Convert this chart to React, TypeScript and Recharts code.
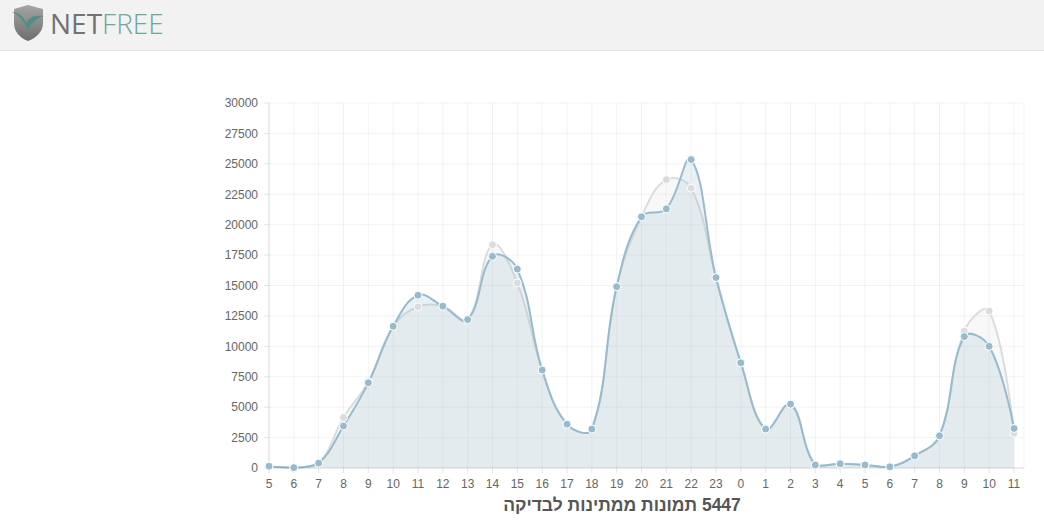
import React from "react";
import {
  Area,
  CartesianGrid,
  ComposedChart,
  XAxis,
  YAxis,
} from "recharts";

// שעות (ציר X) - מתחיל ב-5 בבוקר ומסתובב ליום הבא
const hours = [
  "5", "6", "7", "8", "9", "10", "11", "12", "13", "14", "15", "16", "17", "18",
  "19", "20", "21", "22", "23", "0", "1", "2", "3", "4", "5", "6", "7", "8",
  "9", "10", "11",
];

// סדרה נוכחית (כחול)
const currentValues = [
  150, 30, 400, 3450, 7000, 11650, 14200, 13300, 12200, 17400, 16350, 8050,
  3600, 3200, 14900, 20650, 21300, 25350, 15650, 8650, 3200, 5250, 250, 350,
  250, 100, 1000, 2650, 10800, 10000, 3250,
];

// סדרת השוואה (אפור)
const previousValues = [
  150, 30, 400, 4150, 7100, 11650, 13250, 13300, 12200, 18350, 15200, 8050,
  3600, 3200, 14900, 20650, 23700, 23000, 15650, 8650, 3200, 5250, 250, 350,
  250, 100, 1000, 2650, 11250, 12900, 2850,
];

const yTicks = [0, 2500, 5000, 7500, 10000, 12500, 15000, 17500, 20000, 22500, 25000, 27500, 30000];

const pendingCount = 5447;

const chartData = hours.map((h, i) => ({
  idx: i,
  hour: h,
  current: currentValues[i],
  previous: previousValues[i],
}));

// עקומת bezier בסגנון Chart.js 1 (tension 0.4)
const TENSION = 0.4;
function chartJsCurve(context: any) {
  let pts: [number, number][] = [];
  let line = NaN;
  return {
    areaStart() {
      line = 0;
    },
    areaEnd() {
      line = NaN;
    },
    lineStart() {
      pts = [];
    },
    point(x: number, y: number) {
      pts.push([+x, +y]);
    },
    lineEnd() {
      const n = pts.length;
      if (n > 0) {
        const maxY = Math.max(...pts.map((p) => p[1]));
        const inner: [number, number][] = [];
        const outer: [number, number][] = [];
        for (let i = 0; i < n; i++) {
          const p = pts[i];
          const prev = pts[Math.max(0, i - 1)];
          const next = pts[Math.min(n - 1, i + 1)];
          const t = i > 0 && i < n - 1 ? TENSION : 0;
          const d01 = Math.hypot(p[0] - prev[0], p[1] - prev[1]);
          const d12 = Math.hypot(next[0] - p[0], next[1] - p[1]);
          const sum = d01 + d12 || 1;
          const fa = (t * d01) / sum;
          const fb = (t * d12) / sum;
          inner.push([p[0] - fa * (next[0] - prev[0]), Math.min(maxY, p[1] - fa * (next[1] - prev[1]))]);
          outer.push([p[0] + fb * (next[0] - prev[0]), Math.min(maxY, p[1] + fb * (next[1] - prev[1]))]);
        }
        if (line) context.lineTo(pts[0][0], pts[0][1]);
        else context.moveTo(pts[0][0], pts[0][1]);
        for (let i = 1; i < n; i++) {
          context.bezierCurveTo(
            outer[i - 1][0], outer[i - 1][1],
            inner[i][0], inner[i][1],
            pts[i][0], pts[i][1]
          );
        }
      }
      if (line || (line !== 0 && n === 1)) context.closePath();
      line = 1 - line;
    },
  };
}

const tickFont = {
  fontFamily: '"Helvetica Neue", Helvetica, Arial, "Liberation Sans", sans-serif',
  fontSize: 12,
  fill: "#666",
};

const Logo = () => (
  <div style={{ position: "absolute", left: 10, top: 4, display: "flex", alignItems: "center" }}>
    <svg width={36} height={38} viewBox="0 0 36 38">
      <defs>
        <linearGradient id="shieldGrad" x1="0" y1="0" x2="0" y2="1">
          <stop offset="0%" stopColor="#a5a5a5" />
          <stop offset="100%" stopColor="#6e6e6e" />
        </linearGradient>
      </defs>
      <path d="M4 5 L18 1 L33 5 L33 19 C33 28 26 34 18 37 C10 34 4 28 4 19 Z" fill="url(#shieldGrad)" />
      <path d="M2 8 C9 8 14 13 16 19 C20 12 26 11 34 12 C27 14 22 18 18 26 C14 17 9 11 2 8 Z" fill="#4f8f85" />
    </svg>
    <div
      style={{
        marginLeft: 4,
        fontFamily: '"Open Sans", "Liberation Sans", Arial, sans-serif',
        fontSize: 28,
        lineHeight: "38px",
      }}
    >
      <span style={{ color: "#727272", fontWeight: 500 }}>NET</span>
      <span style={{ color: "#6ea79b", fontWeight: 300 }}>FREE</span>
    </div>
  </div>
);

export default function App() {
  return (
    <div style={{ position: "absolute", left: 0, top: 0, width: 1044, height: 525, background: "#fff", overflow: "hidden" }}>
      <div
        style={{
          position: "absolute",
          left: 0,
          top: 0,
          width: 1044,
          height: 50,
          background: "#f2f2f2",
          borderBottom: "1px solid #e4e4e4",
        }}
      >
        <Logo />
      </div>

      <div style={{ position: "absolute", left: 0, top: 91 }}>
        <ComposedChart
          width={1044}
          height={410}
          data={chartData}
          margin={{ top: 12, right: 20, bottom: 3, left: 209 }}
        >
          <CartesianGrid stroke="rgba(0,0,0,0.05)" />
          <XAxis
            dataKey="idx"
            type="category"
            interval={0}
            height={30}
            padding={{ left: 0, right: 10 }}
            tickFormatter={(i: number) => hours[i]}
            tick={tickFont}
            tickSize={5}
            tickMargin={6}
            tickLine={{ stroke: "rgba(0,0,0,0.1)" }}
            axisLine={{ stroke: "rgba(0,0,0,0.1)" }}
          />
          <YAxis
            domain={[0, 30000]}
            ticks={yTicks}
            interval={0}
            width={60}
            tick={tickFont}
            tickSize={5}
            tickMargin={6}
            tickLine={{ stroke: "rgba(0,0,0,0.1)" }}
            axisLine={{ stroke: "rgba(0,0,0,0.1)" }}
          />
          <Area
            dataKey="previous"
            type={chartJsCurve as any}
            stroke="rgba(220,220,220,1)"
            strokeWidth={2}
            fill="rgba(220,220,220,0.2)"
            fillOpacity={1}
            dot={{ r: 4, fill: "rgba(220,220,220,1)", stroke: "#fff", strokeWidth: 1 }}
            activeDot={false}
            isAnimationActive={false}
          />
          <Area
            dataKey="current"
            type={chartJsCurve as any}
            stroke="rgba(151,187,205,1)"
            strokeWidth={2}
            fill="rgba(151,187,205,0.2)"
            fillOpacity={1}
            dot={{ r: 4, fill: "rgba(151,187,205,1)", stroke: "#fff", strokeWidth: 1 }}
            activeDot={false}
            isAnimationActive={false}
          />
        </ComposedChart>
      </div>

      <div
        dir="rtl"
        style={{
          position: "absolute",
          left: 422,
          top: 494,
          width: 400,
          textAlign: "center",
          fontFamily: 'Arial, "Liberation Sans", sans-serif',
          fontWeight: "bold",
          fontSize: 17.5,
          lineHeight: "22px",
          color: "#555",
        }}
      >
        {pendingCount} תמונות ממתינות לבדיקה
      </div>
    </div>
  );
}
